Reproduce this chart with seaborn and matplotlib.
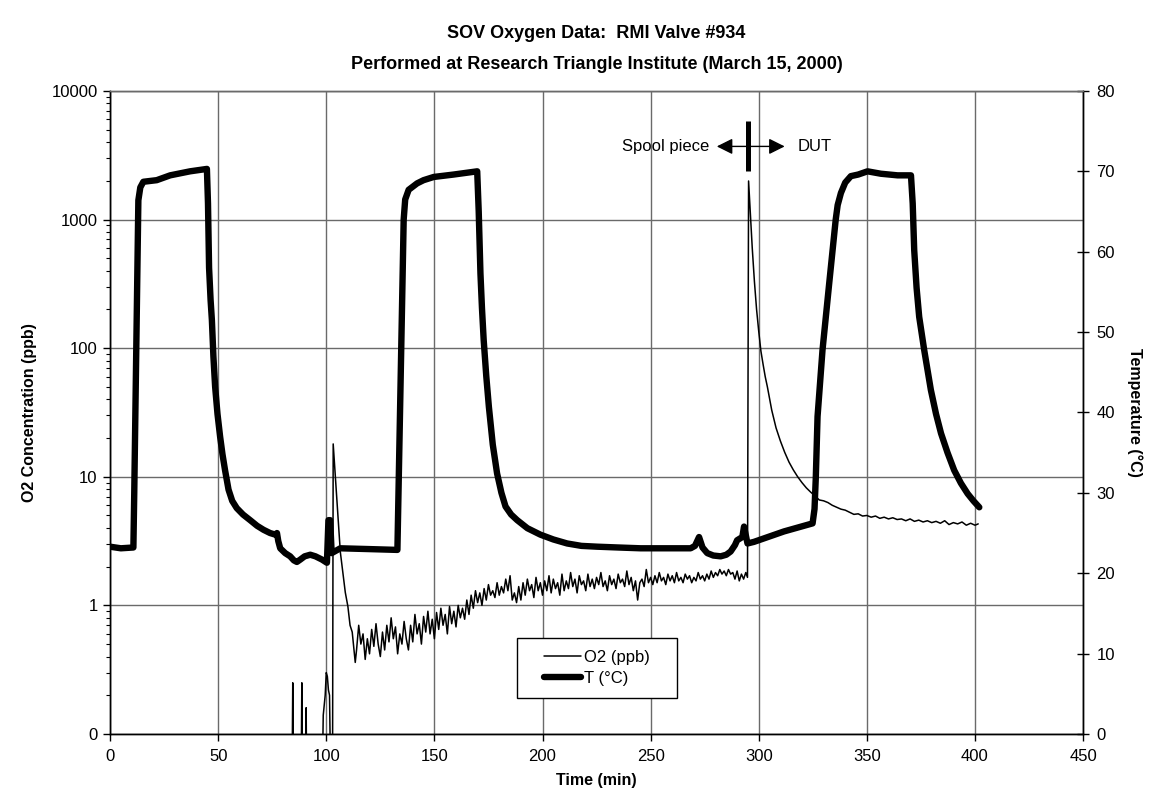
import numpy as np
import pandas as pd
import matplotlib
matplotlib.use("Agg")
import matplotlib.pyplot as plt
import matplotlib.ticker as mticker
from matplotlib.patches import Rectangle
import seaborn as sns

# ---------------- data ----------------
# Temperature (°C) vs time (min)
temp_time = [0, 5, 10.8, 11.2, 13.1, 14.0, 15.4, 21.6, 27.8, 37, 44.8,
             45.3, 45.8, 46.5, 47.1, 47.8, 48.6, 49.7, 50.9, 52.0, 53.2, 54.8, 56.5, 58.6,
             61.5, 64.8, 68, 71, 74, 76.4, 77.2, 77.8, 78.7, 81, 83.3, 85, 86.4, 88, 90,
             92.6, 95, 98, 100.3, 101.0, 101.8, 102.5, 106.5, 120, 132.9, 133.4, 135.8,
             136.5, 138.1, 142, 145, 149.7, 158.9, 169.8,
             170.5, 171.3, 172, 172.8, 174, 175.2, 177, 179, 181, 182.9, 185.5, 188.3, 193,
             199, 205, 211.4, 218, 225.3, 235, 245.4, 268.5, 270.5, 272.4, 274, 276.2, 279,
             282.4, 285, 287, 289, 290, 292.4, 293.2, 294.8, 297.8, 311.7, 324.9, 325.8,
             326.4, 327.2, 329.5, 332.6, 335.6, 336.5, 338, 340, 342.6, 346, 350.3, 356.5,
             364.2, 370.4, 371.2, 371.9, 373, 374.2, 376.5, 379.6, 382, 384.3, 387.3, 390.4,
             393.5, 396.6, 399.3, 402]
temp_vals = [23.3, 23.1, 23.2, 30.0, 66.4, 68.0, 68.7, 68.9, 69.5, 70.0, 70.3,
             66.0, 58.0, 54.0, 51.5, 47.0, 43.2, 39.8, 37.0, 34.8, 32.8, 30.4, 29.0, 28.1,
             27.3, 26.6, 25.9, 25.4, 25.0, 24.8, 25.0, 24.0, 23.1, 22.5, 22.1, 21.6, 21.4,
             21.7, 22.1, 22.3, 22.1, 21.7, 21.3, 26.6, 26.6, 22.5, 23.1, 23.0, 22.9, 30.0,
             64.0, 66.5, 67.7, 68.5, 68.9, 69.3, 69.6, 70.0,
             65.0, 57.3, 53.0, 49.0, 44.5, 40.7, 36.0, 32.4, 30.0, 28.3, 27.3, 26.6, 25.6,
             24.8, 24.2, 23.7, 23.4, 23.3, 23.2, 23.1, 23.1, 23.4, 24.5, 23.2, 22.5, 22.2,
             22.1, 22.3, 22.7, 23.5, 24.1, 24.5, 25.8, 23.7, 23.9, 25.2, 26.2, 28.0,
             32.0, 39.5, 47.8, 56.1, 64.0, 65.8, 67.3, 68.6, 69.4, 69.6, 70.0, 69.7,
             69.5, 69.5, 66.0, 60.2, 55.5, 51.9, 47.8, 42.8, 39.8, 37.4, 35.0, 32.8,
             31.2, 29.9, 29.0, 28.2]

# O2 concentration (ppb) vs time (min); values below 0.1 sit under the axis floor
o2_time_a = [0, 84.2, 84.5, 84.8, 88.4, 88.7, 89.0, 90.5, 90.7, 90.9, 98.2, 98.6, 99.5,
             100.0, 100.5, 101.0, 101.5, 102.0, 102.9, 103.2, 106.5, 108.8, 110, 111,
             112, 113.4]
o2_vals_a = [0.05, 0.05, 0.25, 0.05, 0.05, 0.25, 0.05, 0.05, 0.16, 0.05, 0.05, 0.14, 0.2,
             0.3, 0.28, 0.22, 0.2, 0.05, 0.05, 18.0, 2.6, 1.26, 0.98, 0.7,
             0.62, 0.36]
o2_time_b = list(range(114, 295))
o2_vals_b = [0.45, 0.7, 0.5, 0.6, 0.38, 0.55, 0.42, 0.65, 0.48, 0.72, 0.5, 0.4, 0.62, 0.45,
             0.7, 0.52, 0.8, 0.55, 0.68, 0.42, 0.6, 0.5, 0.75, 0.55, 0.45, 0.7, 0.52, 0.85,
             0.6, 0.72, 0.5, 0.82, 0.62, 0.9, 0.6, 0.78, 0.55, 0.88, 0.65, 0.95, 0.7, 0.85,
             0.6, 0.98, 0.72, 0.9, 0.68, 1.0, 0.8, 0.95, 0.78, 1.1, 0.85, 1.2, 0.95, 1.3,
             1.05, 1.25, 1.0, 1.35, 1.1, 1.45, 1.2, 1.3, 1.15, 1.5, 1.2, 1.4, 1.25, 1.6,
             1.3, 1.7, 1.1, 1.25, 1.05, 1.4, 1.1, 1.5, 1.2, 1.6, 1.3, 1.45, 1.15, 1.65,
             1.3, 1.5, 1.2, 1.55, 1.3, 1.7, 1.25, 1.6, 1.35, 1.5, 1.2, 1.75, 1.3, 1.55,
             1.35, 1.8, 1.4, 1.6, 1.25, 1.7, 1.45, 1.55, 1.3, 1.75, 1.4, 1.6, 1.35, 1.65,
             1.45, 1.8, 1.4, 1.55, 1.3, 1.7, 1.45, 1.6, 1.35, 1.75, 1.5, 1.6, 1.4, 1.85,
             1.45, 1.65, 1.3, 1.55, 1.1, 1.5, 1.6, 1.4, 1.9, 1.5, 1.65, 1.45, 1.7, 1.5,
             1.8, 1.55, 1.65, 1.45, 1.75, 1.55, 1.7, 1.5, 1.8, 1.55, 1.65, 1.5, 1.75, 1.6,
             1.7, 1.5, 1.65, 1.55, 1.8, 1.6, 1.7, 1.55, 1.75, 1.6, 1.85, 1.65, 1.8, 1.7,
             1.9, 1.75, 1.85, 1.7, 1.9, 1.75, 1.8, 1.6, 1.85, 1.55, 1.75, 1.6, 1.8]
o2_time_c = [294.8, 295.3, 296, 297, 298, 299, 300, 301, 302, 303, 304, 306, 308, 310, 312,
             314, 316, 318, 320, 322, 324, 326, 328, 330, 332, 334, 336, 338, 340, 342, 344,
             346, 348, 350, 352, 354, 356, 358, 360, 362, 364, 366, 368, 370, 372, 374, 376,
             378, 380, 382, 384, 386, 388, 390, 392, 394, 396, 398, 400, 401.5]
o2_vals_c = [1.65, 1995, 1200, 600, 330, 200, 135, 95, 75, 60, 50, 33, 24, 19, 15.5,
             13.0, 11.3, 10.0, 9.0, 8.2, 7.6, 7.1, 6.6, 6.5, 6.3, 6.0, 5.8, 5.6, 5.5, 5.3, 5.1,
             5.15, 4.95, 5.0, 4.85, 4.95, 4.75, 4.85, 4.7, 4.8, 4.65, 4.7, 4.55, 4.7, 4.5, 4.6,
             4.45, 4.55, 4.4, 4.5, 4.35, 4.55, 4.25, 4.4, 4.3, 4.45, 4.2, 4.35, 4.2, 4.3]

x_ticks = [0, 50, 100, 150, 200, 250, 300, 350, 400, 450]
left_ticks = [0.1, 1, 10, 100, 1000, 10000]
left_labels = ["0", "1", "10", "100", "1000", "10000"]
right_ticks = [0, 10, 20, 30, 40, 50, 60, 70, 80]

o2_df = pd.DataFrame({"time": o2_time_a + o2_time_b + o2_time_c,
                      "o2": o2_vals_a + o2_vals_b + o2_vals_c})
t_df = pd.DataFrame({"time": temp_time, "temp": temp_vals})

# ---------------- style ----------------
sns.set_theme(style="white")
plt.rcParams["font.family"] = ["Liberation Sans", "DejaVu Sans"]
plt.rcParams["axes.linewidth"] = 1.0
for k in ("text.color", "axes.labelcolor", "xtick.color", "ytick.color", "axes.edgecolor"):
    plt.rcParams[k] = "black"

fig = plt.figure(figsize=(11.51, 8.07), dpi=100)
ax = fig.add_axes([0.0956, 0.0905, 0.8454, 0.7968])
ax2 = ax.twinx()

GRID = "#6a6a6a"

sns.lineplot(data=o2_df, x="time", y="o2", ax=ax, color="black", lw=1.1,
             sort=False, estimator=None, label="O2 (ppb)", legend=False)
sns.lineplot(data=t_df, x="time", y="temp", ax=ax2, color="black", lw=4.6,
             sort=False, estimator=None, label="T (°C)", legend=False,
             solid_capstyle="round", solid_joinstyle="round")

ax.set_yscale("log")
ax.set_ylim(0.1, 10000)
ax.set_xlim(0, 450)
ax2.set_ylim(0, 80)

ax.set_xticks(x_ticks)
ax.set_xticklabels([str(v) for v in x_ticks])
ax.set_yticks(left_ticks)
ax.set_yticklabels(left_labels)
ax.yaxis.set_minor_locator(mticker.LogLocator(base=10, subs=np.arange(2, 10), numticks=20))
ax.yaxis.set_minor_formatter(mticker.NullFormatter())
ax2.set_yticks(right_ticks)
ax2.set_yticklabels([str(v) for v in right_ticks])

ax.grid(True, which="major", axis="both", color=GRID, lw=1.0)
ax.grid(False, which="minor")
ax2.grid(False)
ax.set_axisbelow(True)

ax.tick_params(axis="x", which="major", direction="out", length=5, width=1, labelsize=12,
               color="black", labelcolor="black", pad=6, bottom=True)
ax.tick_params(axis="y", which="major", direction="out", length=5, width=1, labelsize=12,
               color="black", labelcolor="black", pad=4, left=True)
ax.tick_params(axis="y", which="minor", direction="out", length=3, width=0.8, color="black", left=True)
ax2.tick_params(axis="y", which="major", direction="inout", length=9, width=1, labelsize=12,
                color="black", labelcolor="black", pad=5, right=True)

for a in (ax, ax2):
    a.spines["left"].set_color("black")
    a.spines["right"].set_color("black")
    a.spines["bottom"].set_color("black")
    a.spines["top"].set_color(GRID)

ax.set_xlabel("Time (min)", fontsize=11.5, fontweight="bold", labelpad=6, color="black")
ax.set_ylabel("O2 Concentration (ppb)", fontsize=11.5, fontweight="bold", labelpad=10, color="black")
ax2.set_ylabel("Temperature (°C)", fontsize=11.5, fontweight="bold", rotation=270, labelpad=20,
               color="black")

fig.text(0.5183, 0.958, "SOV Oxygen Data:  RMI Valve #934", ha="center", va="center",
         fontsize=13, fontweight="bold", color="black")
fig.text(0.5183, 0.9205, "Performed at Research Triangle Institute (March 15, 2000)",
         ha="center", va="center", fontsize=13, fontweight="bold", color="black")

# Spool piece / DUT annotation
ax2.plot([295.2, 295.2], [70.0, 76.2], color="black", lw=3.6, solid_capstyle="butt")
for x_end in (280.6, 312.0):
    ax2.annotate("", xy=(x_end, 73.1), xytext=(295.2, 73.1),
                 arrowprops=dict(arrowstyle="-|>", color="black", lw=1.0, mutation_scale=24,
                                 shrinkA=0, shrinkB=0))
ax2.text(277.0, 73.1, "Spool piece", ha="right", va="center", fontsize=12, color="black")
ax2.text(318.2, 73.1, "DUT", ha="left", va="center", fontsize=12, color="black")

# legend with a hand-placed frame
frame = Rectangle((0.4183, 0.056), 0.1644, 0.0933, transform=ax2.transAxes,
                  facecolor="white", edgecolor="black", lw=1.0, zorder=4.5)
ax2.add_patch(frame)
h1, l1 = ax.get_legend_handles_labels()
h2, l2 = ax2.get_legend_handles_labels()
leg = ax2.legend(h1 + h2, l1 + l2, loc="center", bbox_to_anchor=(0.5005, 0.1026),
                 frameon=False, fontsize=12, handlelength=2.2, handletextpad=0.2,
                 borderpad=0, labelspacing=0.35, borderaxespad=0)
for t in leg.get_texts():
    t.set_color("black")
leg.set_zorder(6)

fig.savefig("out.png", dpi=100, facecolor="white")
